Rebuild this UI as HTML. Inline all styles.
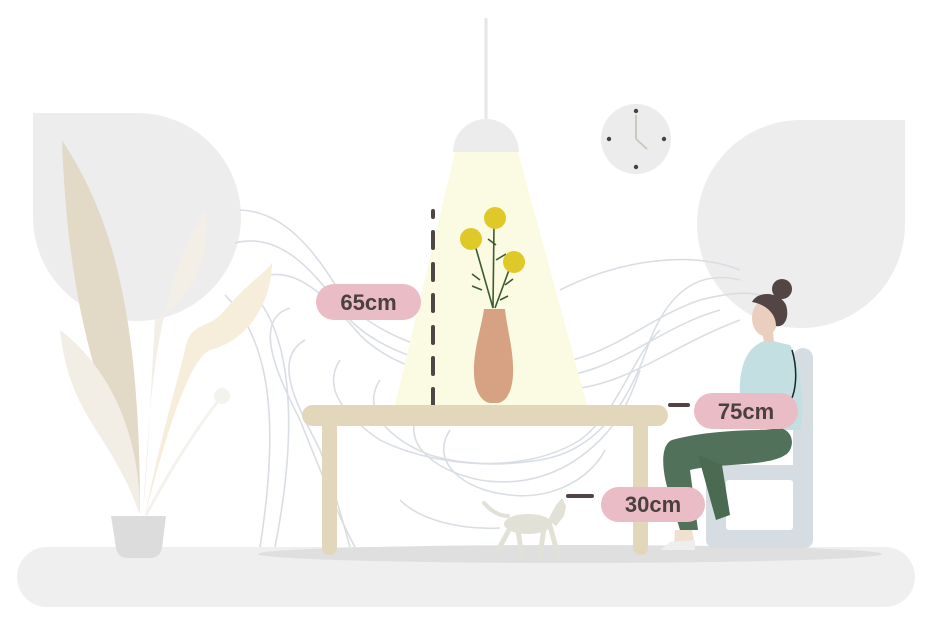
<!DOCTYPE html>
<html><head><meta charset="utf-8"><style>
html,body{margin:0;padding:0;background:#fff;width:940px;height:635px;overflow:hidden}
svg{display:block}
text{font-family:"Liberation Sans",sans-serif;font-weight:bold;fill:#4a4040;font-size:22px}
</style></head><body>
<svg width="940" height="635" viewBox="0 0 940 635">
<path d="M33,113 H137 A104,104 0 1 1 33,217 Z" fill="#ededed"/>
<path d="M905,120 V224 A104,104 0 1 1 801,120 Z" fill="#ededed"/>
<rect x="17" y="547" width="898" height="60" rx="30" fill="#efefef"/>
<ellipse cx="570" cy="554" rx="312" ry="9" fill="#e0dfdf"/>
<g fill="none" stroke="#d9dee4" stroke-width="1.6">
<path d="M240,210 C290,212 320,260 345,300 C380,340 450,360 520,365 C600,370 640,320 700,300 C740,290 760,292 770,300"/>
<path d="M235,243 C285,230 320,280 350,320 C390,360 460,372 530,378 C610,382 650,330 720,310"/>
<path d="M270,275 C300,270 330,300 360,335 C400,375 470,385 540,390 C620,395 660,350 740,320"/>
<path d="M290,308 C250,320 280,380 300,420 C320,470 340,520 355,547"/>
<path d="M305,340 C270,360 300,410 320,450 C335,490 345,530 350,547"/>
<path d="M250,290 C290,330 300,420 275,547"/>
<path d="M225,295 C270,340 280,420 260,547"/>
<path d="M340,360 C320,390 350,420 380,440 C420,460 480,470 540,460 C600,450 630,400 650,340 C670,290 700,270 740,280"/>
<path d="M380,380 C360,410 390,440 430,455 C480,470 540,465 580,440 C620,410 630,360 660,330"/>
<path d="M420,410 C400,440 430,470 480,480 C530,488 570,470 600,440 C620,420 630,400 640,370"/>
<path d="M450,430 C430,460 460,490 510,495 C550,500 590,480 605,450"/>
<path d="M560,290 C620,260 690,250 740,270"/>
<path d="M400,500 C420,520 460,530 500,528"/>
</g>
<path d="M138,510 C120,420 70,360 62,140 C100,200 140,280 140,510 Z" fill="#e2d9c7"/>
<path d="M60,330 C100,360 140,420 140,515 C110,430 70,420 60,330 Z" fill="#f2eee6"/>
<path d="M143,510 C150,420 150,300 205,210 C212,260 190,300 155,320 C150,400 148,470 143,510Z" fill="#f3efe7"/>
<path d="M145,515 C160,440 175,390 185,350 C190,320 210,330 225,310 C250,280 270,270 272,262 C272,300 250,340 210,350 C190,360 170,420 145,515 Z" fill="#f6edda"/>
<path d="M146,515 C170,470 195,430 222,396" stroke="#f4f2ec" stroke-width="3" fill="none"/>
<circle cx="222" cy="396" r="8" fill="#f4f2ec"/>
<path d="M111,516 H166 L162,548 Q160,558 150,558 H128 Q118,558 116,548 Z" fill="#dcdcdc"/>
<line x1="486" y1="18" x2="486" y2="120" stroke="#e6e6e6" stroke-width="3"/>
<path d="M455,152 L518,152 L587,405 L395,405 Z" fill="#fbfbe3"/>
<path d="M453,152 A33,33 0 0 1 519,152 Z" fill="#ececec"/>
<circle cx="636" cy="139" r="35" fill="#ececec"/>
<g fill="#4a4040"><circle cx="636" cy="111" r="2.2"/><circle cx="636" cy="167" r="2.2"/><circle cx="609" cy="139" r="2.2"/><circle cx="664" cy="139" r="2.2"/></g>
<path d="M636,139 L636,115 M636,139 L647,149" stroke="#c9c5b8" stroke-width="1.8"/>
<g stroke="#3d5a2f" stroke-width="1.6" fill="none">
<path d="M493,308 L494,225"/><path d="M493,308 L475,245"/><path d="M495,308 L512,262"/>
<path d="M480,280 l-8,-6 M482,290 l-10,-4 M496,245 l-8,-6 M496,260 l10,-6 M505,285 l8,-6 M500,300 l8,-4"/>
</g>
<g fill="#dfc928"><circle cx="495" cy="218" r="11"/><circle cx="471" cy="239" r="11"/><circle cx="514" cy="262" r="11"/></g>
<path d="M484,309 H505 C507,330 514,350 513,375 C512,392 506,402 498,403 H490 C482,402 475,392 474,375 C473,350 481,330 484,309 Z" fill="#d6a283"/>
<g stroke="#4f4545" stroke-width="4" stroke-linecap="round">
<line x1="433" y1="211" x2="433" y2="217"/>
<line x1="433" y1="232" x2="433" y2="248"/>
<line x1="433" y1="264" x2="433" y2="280"/>
<line x1="433" y1="295" x2="433" y2="311"/>
<line x1="433" y1="327" x2="433" y2="343"/>
<line x1="433" y1="358" x2="433" y2="374"/>
<line x1="433" y1="389" x2="433" y2="405"/>
</g>
<rect x="302" y="405" width="366" height="21" rx="10.5" fill="#e3d7bb"/>
<rect x="322" y="420" width="15" height="135" rx="7" fill="#e3d7bb"/>
<rect x="633" y="420" width="15" height="135" rx="7" fill="#e3d7bb"/>
<rect x="793" y="348" width="20" height="200" rx="10" fill="#d5dde2"/>
<rect x="706" y="465" width="107" height="83" rx="8" fill="#d5dde2"/>
<rect x="726" y="480" width="67" height="50" rx="3" fill="#fff"/>
<path d="M768,340 C745,345 738,370 740,400 L760,430 L800,430 C806,410 800,360 790,345 Z" fill="#c3dfe2"/>
<path d="M792,350 C798,370 796,390 791,400" stroke="#222" stroke-width="1.5" fill="none"/>
<path d="M765,430 C740,430 700,432 672,440 C660,445 662,470 668,490 L680,530 L698,530 L690,470 C720,462 780,468 790,450 C795,440 790,430 780,428 Z" fill="#52715a"/>
<path d="M698,455 L722,465 L730,515 L716,520 Z" fill="#4a6a52"/>
<path d="M675,530 L692,530 L694,540 L674,545 Z" fill="#f0e0d0"/>
<path d="M670,542 L695,540 L695,550 L660,550 Z" fill="#eeeeee"/>
<path d="M760,322 L772,322 L774,342 L764,342 Z" fill="#ebcfbe"/>
<ellipse cx="765" cy="318" rx="13" ry="18" fill="#ebcfbe"/>
<path d="M752,302 C758,290 780,292 786,305 C790,318 784,328 776,326 C776,315 768,305 752,302 Z" fill="#544545"/>
<circle cx="782" cy="289" r="10" fill="#544545"/>
<!-- cat -->
<g fill="#e2e1d8" stroke="#e2e1d8" stroke-linecap="round">
<path d="M484,503 C492,512 500,516 508,516" stroke-width="4" fill="none"/>
<ellipse cx="528" cy="524" rx="24" ry="10" stroke="none"/>
<path d="M548,520 L556,505 L562,498 L566,506 L564,516 L556,526 Z" stroke="none"/>
<line x1="510" y1="528" x2="496" y2="554" stroke-width="5"/>
<line x1="518" y1="530" x2="522" y2="556" stroke-width="5"/>
<line x1="544" y1="528" x2="540" y2="556" stroke-width="5"/>
<line x1="550" y1="526" x2="558" y2="555" stroke-width="5"/>
</g>
<line x1="670" y1="405" x2="688" y2="405" stroke="#4f4545" stroke-width="4" stroke-linecap="round"/>
<line x1="568" y1="496" x2="592" y2="496" stroke="#4f4545" stroke-width="4" stroke-linecap="round"/>
<rect x="316" y="284" width="105" height="36" rx="18" fill="#eabcc5"/>
<text x="368.5" y="310" text-anchor="middle">65cm</text>
<rect x="694" y="393" width="104" height="36" rx="18" fill="#eabcc5"/>
<text x="746" y="419" text-anchor="middle">75cm</text>
<rect x="601" y="487" width="104" height="35" rx="17.5" fill="#eabcc5"/>
<text x="653" y="512" text-anchor="middle">30cm</text>
</svg>
</body></html>
